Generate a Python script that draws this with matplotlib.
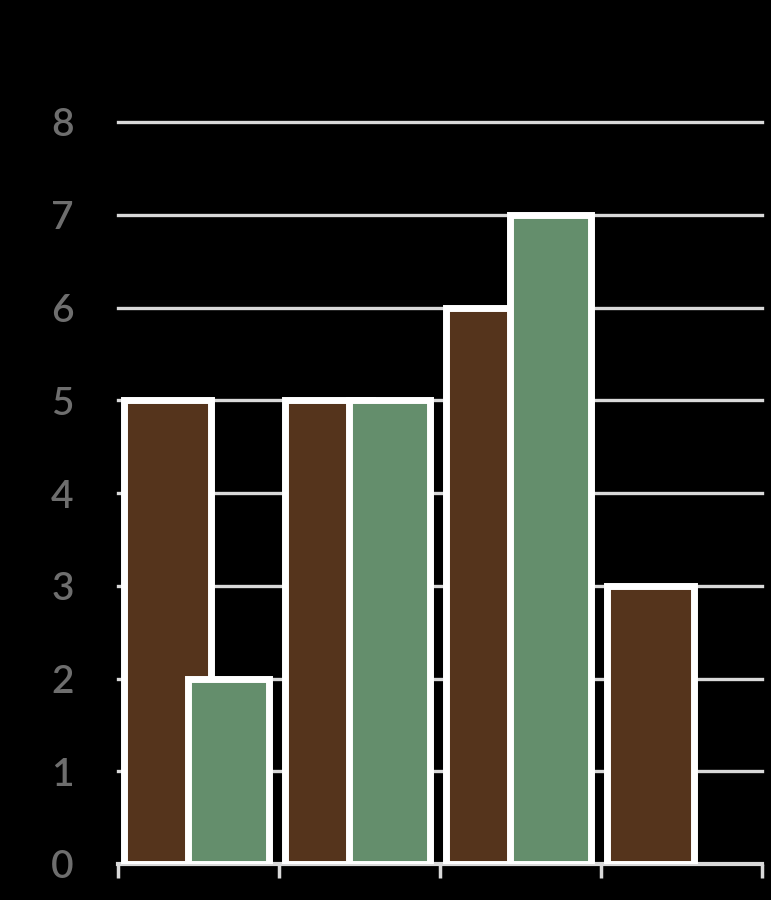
import matplotlib
matplotlib.use("Agg")
import matplotlib.pyplot as plt
import numpy as np

categories = ["A", "B", "C", "D"]
series1 = [5, 5, 6, 3]
series2 = [2, 5, 7, None]
yticks = [0, 1, 2, 3, 4, 5, 6, 7, 8]

brown = "#55341C"
green = "#648E6C"
grid_c = "#D9D9D9"
label_c = "#6E6E6E"

fig = plt.figure(figsize=(7.71, 9.0), dpi=100, facecolor="black")
ax = fig.add_axes([118/771, 36/900, (762-118)/771, (864-122)/900])
ax.set_facecolor("black")

x = np.arange(len(categories))
w1, w2 = 0.54, 0.506
ax.bar(x - 0.46, series1, width=w1, align="edge", color=brown,
       edgecolor="white", linewidth=5.0, zorder=3)
for xi, v in zip(x, series2):
    if v is not None:
        ax.bar(xi - 0.068, v, width=w2, align="edge", color=green,
               edgecolor="white", linewidth=5.0, zorder=4)

ax.set_xlim(-0.5, len(categories) - 0.5)
ax.set_ylim(0, 8)
ax.set_yticks(yticks)
ax.set_yticklabels([str(t) for t in yticks], fontfamily="Lato", fontsize=28,
                   fontweight="semibold", color=label_c)
ax.tick_params(axis="y", length=0, pad=40)
for t in ax.get_yticklabels():
    t.set_horizontalalignment("center")
for yv in yticks[1:]:
    ax.axhline(yv, color=grid_c, linewidth=2.4, zorder=1, clip_on=False)

ax.set_xticks([])
ax.set_xticks(np.arange(-0.5, len(categories)), minor=True)
ax.tick_params(axis="x", which="minor", length=10, width=2.5, color=grid_c,
               labelbottom=False)
for s in ["top", "right", "left"]:
    ax.spines[s].set_visible(False)
ax.spines["bottom"].set_color(grid_c)
ax.spines["bottom"].set_linewidth(3)
ax.spines["bottom"].set_zorder(2)

fig.savefig("out.png", dpi=100, facecolor="black")
